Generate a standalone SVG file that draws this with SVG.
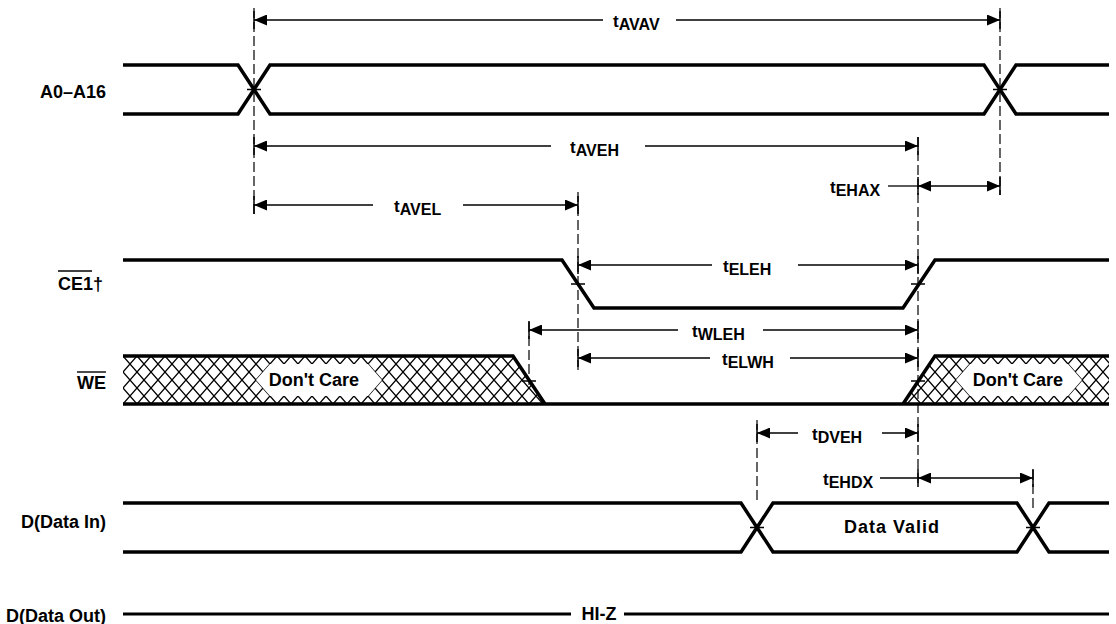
<svg xmlns="http://www.w3.org/2000/svg" width="1116" height="624" viewBox="0 0 1116 624">
<style>
.bg{fill:#fff}
.sig{fill:none;stroke:#000;stroke-width:3.5;stroke-linejoin:miter;stroke-linecap:butt}
.dim{fill:none;stroke:#000;stroke-width:1.3}
.dash{fill:none;stroke:#000;stroke-width:1.2;stroke-dasharray:10 4}
.tick{fill:none;stroke:#000;stroke-width:1.5}
.lbl{font-family:"Liberation Sans",Arial,sans-serif;font-weight:bold;font-size:18px;fill:#000}
.tl{font-family:"Liberation Sans",Arial,sans-serif;font-weight:bold;font-size:17px;fill:#000}
.sub{font-size:16px}
.ol{stroke:#000;stroke-width:1.4}
</style>
<defs>
<marker id="ah" viewBox="0 0 13 11" refX="13" refY="5.5" markerWidth="13" markerHeight="11" markerUnits="userSpaceOnUse" orient="auto-start-reverse">
<path d="M0,0 L13,5.5 L0,11 z" fill="#000"/>
</marker>
<pattern id="hatch" patternUnits="userSpaceOnUse" x="123" y="356" width="14" height="16">
<path d="M0,0 L14,16 M14,0 L0,16" stroke="#000" stroke-width="1.3" fill="none"/>
</pattern>
</defs>
<rect class="bg" x="0" y="0" width="1116" height="624"/>

<g id="A0-A16">
<text class="lbl" x="106" y="98" text-anchor="end">A0–A16</text>
<path class="sig" d="M123,65 H238 L270,114 H984 L1016,65 H1109"/>
<path class="sig" d="M123,114 H238 L270,65 H984 L1016,114 H1109"/>
<path class="tick" d="M247,89.5 H261 M993,89.5 H1007"/>
</g>

<g id="CE1">
<text class="lbl" x="103" y="290" text-anchor="end">CE1†</text>
<line class="ol" x1="58" y1="271" x2="92" y2="271"/>
<path class="sig" d="M123,260 H562 L594,308 H903 L935,260 H1109"/>
<path class="tick" d="M571,284 H585 M911,284 H925"/>
</g>

<g id="WE">
<text class="lbl" x="106" y="389" text-anchor="end">WE</text>
<line class="ol" x1="77" y1="372" x2="106" y2="372"/>
<polygon points="123,356 513,356 545,404 123,404" fill="url(#hatch)"/>
<polygon points="903,404 935,356 1109,356 1109,404" fill="url(#hatch)"/>
<polygon points="256,380 270,364 368,364 382,380 368,396 270,396" fill="#fff"/>
<polygon points="956,380 970,364 1068,364 1082,380 1068,396 970,396" fill="#fff"/>
<path class="sig" d="M123,356 H513 L545,404"/>
<path class="sig" d="M903,404 L935,356 H1109"/>
<path class="sig" d="M123,404 H1109"/>
<path class="tick" d="M522,381 H536 M911,381 H925"/>
<text class="lbl" x="314" y="386" text-anchor="middle">Don't Care</text>
<text class="lbl" x="1018" y="386" text-anchor="middle">Don't Care</text>
</g>

<g id="DataIn">
<text class="lbl" x="106" y="528" text-anchor="end">D(Data In)</text>
<path class="sig" d="M123,503 H741 L773,552 H1017 L1049,503 H1109"/>
<path class="sig" d="M123,552 H741 L773,503 H1017 L1049,552 H1109"/>
<path class="tick" d="M750,527.5 H764 M1026,527.5 H1040"/>
<text class="lbl" x="892" y="533" text-anchor="middle" style="letter-spacing:1px">Data Valid</text>
</g>

<g id="DataOut">
<text class="lbl" x="106" y="622" text-anchor="end">D(Data Out)</text>
<path class="sig" d="M123,614 H571 M624,614 H1109" style="stroke-width:3"/>
<text class="lbl" x="599" y="620" text-anchor="middle">HI-Z</text>
</g>

<g id="connectors">
<line class="dash" x1="254" y1="8" x2="254" y2="215"/>
<line class="dash" x1="1000" y1="8" x2="1000" y2="195"/>
<line class="dash" x1="918" y1="137" x2="918" y2="487"/>
<line class="dash" x1="578" y1="192" x2="578" y2="370"/>
<line class="dash" x1="529" y1="322" x2="529" y2="385"/>
<line class="dash" x1="757" y1="420" x2="757" y2="502"/>
<line class="dash" x1="1033" y1="470" x2="1033" y2="510"/>

<path class="tick" d="M254,11 V29 M1000,11 V29 M254,137 V155 M918,137 V155 M254,196 V214 M578,196 V214 M918,177 V195 M1000,177 V195 M578,256 V274 M918,256 V274 M529,321 V339 M918,321 V339 M578,349 V367 M918,349 V367 M757,424 V442 M918,424 V442 M918,469 V487 M1033,469 V487"/>

<line class="dim" x1="603" y1="20" x2="254" y2="20" marker-end="url(#ah)"/>
<line class="dim" x1="676" y1="20" x2="1000" y2="20" marker-end="url(#ah)"/>
<line class="dim" x1="551" y1="146" x2="254" y2="146" marker-end="url(#ah)"/>
<line class="dim" x1="645" y1="146" x2="918" y2="146" marker-end="url(#ah)"/>
<line class="dim" x1="373" y1="205" x2="254" y2="205" marker-end="url(#ah)"/>
<line class="dim" x1="463" y1="205" x2="578" y2="205" marker-end="url(#ah)"/>
<line class="dim" x1="888" y1="186" x2="918" y2="186"/>
<line class="dim" x1="918" y1="186" x2="1000" y2="186" marker-start="url(#ah)" marker-end="url(#ah)"/>
<line class="dim" x1="712" y1="265" x2="578" y2="265" marker-end="url(#ah)"/>
<line class="dim" x1="798" y1="265" x2="918" y2="265" marker-end="url(#ah)"/>
<line class="dim" x1="678" y1="330" x2="529" y2="330" marker-end="url(#ah)"/>
<line class="dim" x1="763" y1="330" x2="918" y2="330" marker-end="url(#ah)"/>
<line class="dim" x1="710" y1="358" x2="578" y2="358" marker-end="url(#ah)"/>
<line class="dim" x1="790" y1="358" x2="918" y2="358" marker-end="url(#ah)"/>
<line class="dim" x1="798" y1="433" x2="757" y2="433" marker-end="url(#ah)"/>
<line class="dim" x1="882" y1="433" x2="918" y2="433" marker-end="url(#ah)"/>
<line class="dim" x1="880" y1="478" x2="918" y2="478"/>
<line class="dim" x1="918" y1="478" x2="1033" y2="478" marker-start="url(#ah)" marker-end="url(#ah)"/>

<text class="tl" x="613" y="27">t<tspan class="sub" dy="3">AVAV</tspan></text>
<text class="tl" x="570" y="153">t<tspan class="sub" dy="3">AVEH</tspan></text>
<text class="tl" x="394" y="212">t<tspan class="sub" dy="3">AVEL</tspan></text>
<text class="tl" x="830" y="193">t<tspan class="sub" dy="3">EHAX</tspan></text>
<text class="tl" x="723" y="272">t<tspan class="sub" dy="3">ELEH</tspan></text>
<text class="tl" x="692" y="337">t<tspan class="sub" dy="3">WLEH</tspan></text>
<text class="tl" x="722" y="365">t<tspan class="sub" dy="3">ELWH</tspan></text>
<text class="tl" x="812" y="440">t<tspan class="sub" dy="3">DVEH</tspan></text>
<text class="tl" x="823" y="485">t<tspan class="sub" dy="3">EHDX</tspan></text>
</g>
</svg>
